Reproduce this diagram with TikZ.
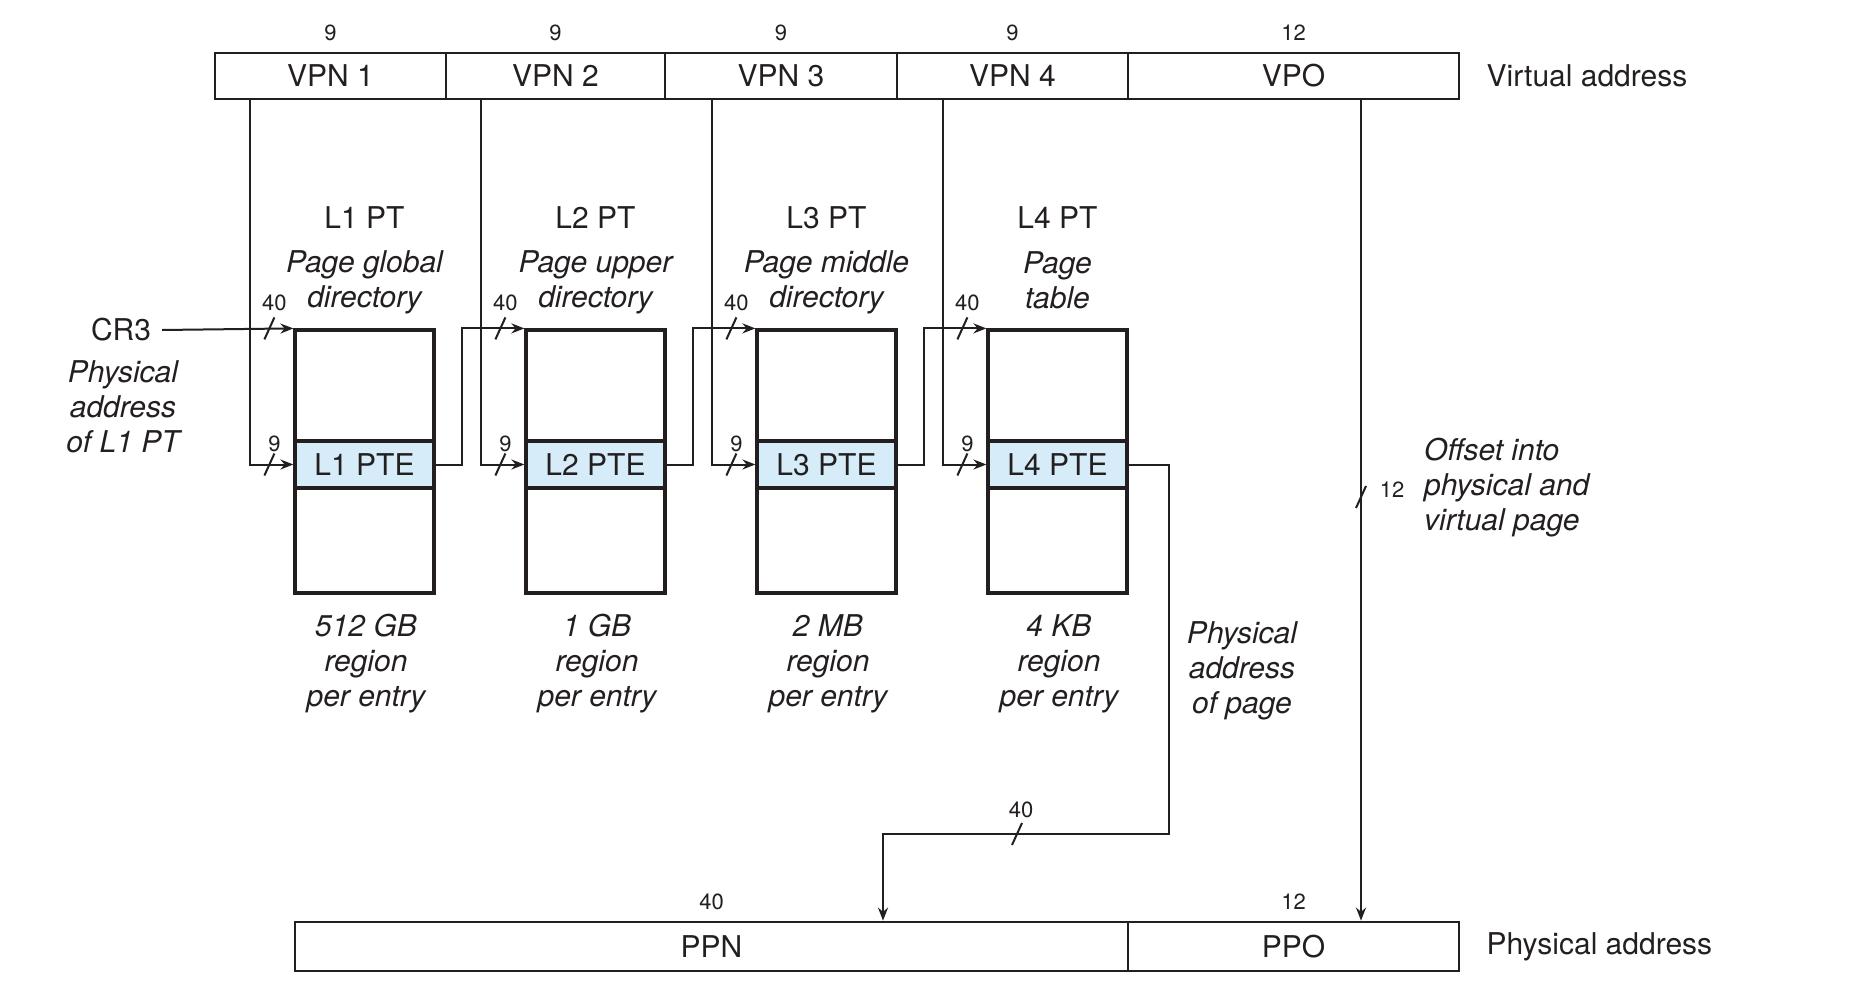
\documentclass[tikz,border=0pt]{standalone}
\usepackage{fontspec}
\setmainfont{TeX Gyre Heros}
\usetikzlibrary{arrows.meta,calc}
\definecolor{ink}{RGB}{35,31,32}
\definecolor{ptefill}{RGB}{214,236,248}
\tikzset{
  big/.style={font=\fontsize{30}{35}\selectfont},
  small/.style={font=\fontsize{22}{24}\selectfont, inner sep=0pt},
  lab/.style={font=\fontsize{30}{35}\selectfont\itshape, align=center, inner sep=0pt},
  field/.style={draw=ink, line width=2.8pt, minimum height=46pt, inner sep=0pt, big},
  ptbox/.style={draw=ink, line width=3.2pt, minimum width=139pt, minimum height=263pt, inner sep=0pt},
  pte/.style={draw=ink, line width=3.2pt, fill=ptefill, minimum width=139pt, minimum height=47pt, inner sep=0pt, big},
  conn/.style={draw=ink, line width=2pt},
  arr/.style={conn, -{Stealth[length=13pt,width=10pt]}},
  busmark/.pic={\draw[ink, line width=2pt] (-5,11) -- (5,-11);},
}
\begin{document}
\begin{tikzpicture}[x=1pt, y=-1pt, text=ink]
\useasboundingbox (0,0) rectangle (1866,1000);

% virtual address
\node[field, minimum width=231pt] (vpn1) at (330.5,76) {VPN 1};
\node[field, minimum width=219pt] (vpn2) at (555.5,76) {VPN 2};
\node[field, minimum width=232pt] (vpn3) at (781,76) {VPN 3};
\node[field, minimum width=231pt] (vpn4) at (1012.5,76) {VPN 4};
\node[field, minimum width=331pt] (vpo) at (1293.5,76) {VPO};
\node[small] (b1) at ($(vpn1.north)+(0,-19)$) {9};
\node[small] (b2) at ($(vpn2.north)+(0,-19)$) {9};
\node[small] (b3) at ($(vpn3.north)+(0,-19)$) {9};
\node[small] (b4) at ($(vpn4.north)+(0,-19)$) {9};
\node[small] (b5) at ($(vpo.north)+(0,-19)$) {12};
\node[big, anchor=west, inner sep=0pt] (va) at ($(vpo.east)+(26,0)$) {Virtual address};

% physical address
\node[field, minimum width=833pt, minimum height=49pt] (ppn) at (711.5,946.5) {PPN};
\node[field, minimum width=331pt, minimum height=49pt] (ppo) at (1293.5,946.5) {PPO};
\node[small] (pb1) at ($(ppn.north)+(0,-19)$) {40};
\node[small] (pb2) at ($(ppo.north)+(0,-19)$) {12};
\node[big, anchor=west, inner sep=0pt] (pa) at ($(ppo.east)+(26,0)$) {Physical address};

% page tables
\foreach \i/\cx in {1/364.5, 2/595.5, 3/826.5, 4/1057.5} {
  \node[ptbox] (pt\i) at (\cx,461.5) {};
  \node[pte] (pte\i) at (\cx,464.5) {L\i\ PTE};
  \node[big, inner sep=0pt] (ttl\i) at (\cx,218) {L\i\ PT};
  \pic at ($(pt\i.north west)+(-24,0)$) {busmark};
  \pic at ($(pte\i.west)+(-24,0)$) {busmark};
  \node[small] (w40\i) at ($(pt\i.north west)+(-19,-26)$) {40};
  \node[small] (w9\i) at ($(pte\i.west)+(-19,-20.5)$) {9};
}
\node[lab] (sub1) at (364.5,282) {Page global\\directory};
\node[lab] (sub2) at (595.5,282) {Page upper\\directory};
\node[lab] (sub3) at (826.5,282) {Page middle\\directory};
\node[lab] (sub4) at (1057.5,280) {Page\\table};
\node[lab] (reg1) at (366,664) {512 GB\\region\\per entry};
\node[lab] (reg2) at (597,664) {1 GB\\region\\per entry};
\node[lab] (reg3) at (828,664) {2 MB\\region\\per entry};
\node[lab] (reg4) at (1059,664) {4 KB\\region\\per entry};

% CR3
\node[big, inner sep=0pt] (cr3) at (121,330) {CR3};
\node[lab] (cr3lab) at (123,407) {Physical\\address\\of L1 PT};
\draw[arr] ($(cr3.east)+(11,0)$) -- (pt1.north west);

% VPN index lines
\coordinate (v1) at (250,0);
\coordinate (v2) at (481,0);
\coordinate (v3) at (712,0);
\coordinate (v4) at (943,0);
\draw[arr] (vpn1.south -| v1) |- (pte1.west);
\draw[arr] (vpn2.south -| v2) |- (pte2.west);
\draw[arr] (vpn3.south -| v3) |- (pte3.west);
\draw[arr] (vpn4.south -| v4) |- (pte4.west);

% PTE to next table
\draw[arr] (pte1.east) -- ++(26,0) |- (pt2.north west);
\draw[arr] (pte2.east) -- ++(26,0) |- (pt3.north west);
\draw[arr] (pte3.east) -- ++(26,0) |- (pt4.north west);

% L4 PTE to PPN
\coordinate (k1) at (1169,834);
\coordinate (k2) at (883,834);
\draw[arr] (pte4.east) -| (k1) -- (k2) -- (k2 |- ppn.north);
\pic at (1017,834) {busmark};
\node[small] (w40b) at (1021,810) {40};
\node[lab] (pap) at (1242,671) {Physical\\address\\of page};

% VPO to PPO
\coordinate (vo) at (1361,0);
\draw[arr] (vpo.south -| vo) -- (ppo.north -| vo);
\pic at (1361,497) {busmark};
\node[small] (w12) at (1392,490) {12};
\node[lab, align=left, anchor=west] (off) at (1424,488) {Offset into\\physical and\\virtual page};
\end{tikzpicture}
\end{document}
